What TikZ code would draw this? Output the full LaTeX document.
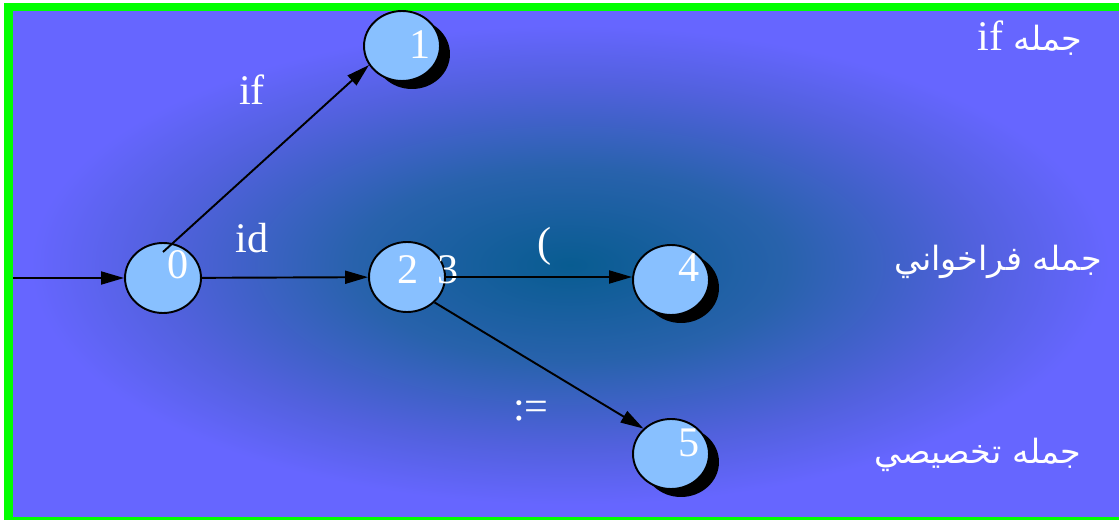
\documentclass[tikz,border=0pt]{standalone}
\usepackage{fontspec}
\setmainfont{Liberation Serif}
\newfontfamily\arabicfont[Script=Arabic]{DejaVu Sans}
\TeXXeTstate=1
\usepackage{xcolor}
\usepackage{tikz}
\usetikzlibrary{
  positioning,
  arrows.meta,
  shapes.geometric,
  shadows,
  calc
}

\definecolor{slidebg}{RGB}{102,102,255}
\definecolor{slideframe}{RGB}{0,255,0}
\definecolor{glowcenter}{RGB}{8,92,145}
\definecolor{glowinner}{RGB}{40,98,172}
\definecolor{glowouter}{RGB}{82,97,222}
\definecolor{statefill}{RGB}{136,192,255}

\pgfdeclareradialshading{slideglow}{\pgfpoint{0bp}{0bp}}{%
  color(0bp)=(glowcenter); color(10bp)=(glowinner); color(19bp)=(glowouter);
  color(25bp)=(slidebg); color(50bp)=(slidebg)}

\begin{document}
\begin{tikzpicture}[
  x=0.02cm, y=-0.02cm,
  font=\fontsize{24}{28}\selectfont,
  state/.style={
    ellipse,
    draw=black,
    line width=1.1pt,
    fill=statefill,
    minimum width=1.52cm,
    minimum height=1.4cm,
    inner sep=0pt
  },
  shadowed/.style={
    drop shadow={shadow xshift=0.2cm, shadow yshift=-0.16cm, fill=black, opacity=1}
  },
  num/.style={
    text=white,
    inner sep=0pt
  },
  kind/.style={
    text=white,
    inner sep=0pt,
    font=\arabicfont\fontsize{19}{23}\selectfont
  },
  arrow/.style={
    -{Triangle[length=0.46cm, width=0.26cm]},
    line width=1.1pt,
    draw=black
  }
]

% Slide background (frame on left, top and bottom only)
\useasboundingbox (0,0) rectangle (1119,520);
\fill[white] (0,0) rectangle (1119,520);
\fill[slidebg] (13,11) rectangle (1119,517);
\fill[slideframe] (4,3) rectangle (13,520);
\fill[slideframe] (4,3) rectangle (1119,11);
\fill[slideframe] (4,517) rectangle (1119,520);
\shade[shading=slideglow] (570,265) ellipse [x radius=10.8cm, y radius=4.8cm];

% States
\node[state] (n0) at (163,278) {};
\node[state, shadowed] (n1) at (402,46) {};
\node[state] (n2) at (407,277) {};
\node[state, shadowed] (n4) at (671,280) {};
\node[state, shadowed] (n5) at (671,454) {};

\node[num] (t0) at (178,265) {0};
\node[num] (t1) at (420,45) {1};
\node[num] (t2) at (408,270) {2};
\node[num] (t3) at (448,270) {3};
\node[num] (t4) at (689,268) {4};
\node[num] (t5) at (689,443) {5};

% Token labels
\node[num] (lif) at (252,90) {if};
\node[num] (lid) at (252,238) {id};
\node[num] (lpar) at (545,246) {(};
\node[num] (lasg) at (531,411) {:=};

% Statement kinds
\node[kind] (kif) at (1030,38) {\beginR جمله \beginL{\rmfamily\fontsize{24}{28}\selectfont if}\endL\endR};
\node[kind] (kcall) at (998,262) {\beginR جمله فراخواني\endR};
\node[kind] (kasg) at (978,455) {\beginR جمله تخصيصي\endR};

% Transitions
\coordinate (entry) at (13,278);
\coordinate (n0top) at ($(n0.center)+(0,-26)$);
\draw[arrow] (entry) -- (n0);
\draw[arrow] (n0top) -- (n1.210);
\draw[arrow] (n0) -- (n2);
\draw[arrow] (n2.east) -- (n2.east -| n4.west);
\draw[arrow] (n2.south east) -- (n5.north west);

\end{tikzpicture}
\end{document}
